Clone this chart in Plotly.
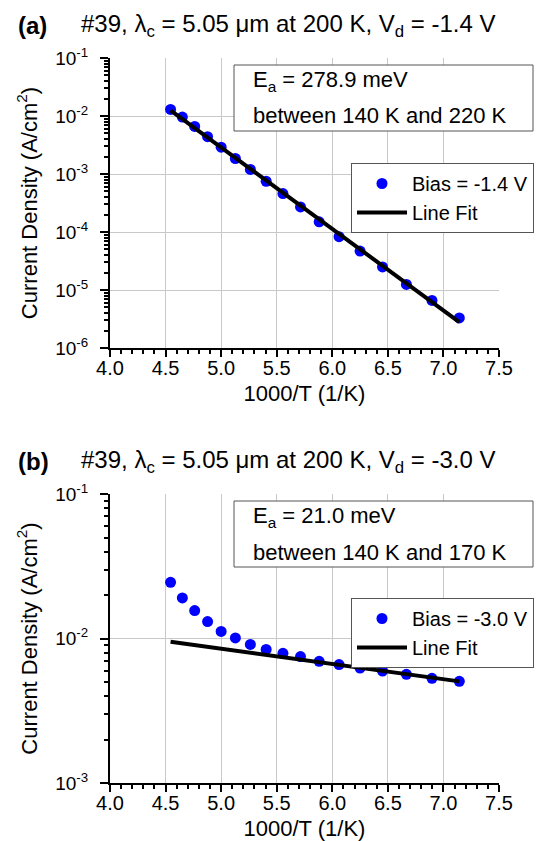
"""Dark current density vs 1000/T, two bias panels"""

import plotly.graph_objects as go

# ---------- data ----------
inv_t = [4.545, 4.651, 4.762, 4.878, 5.000, 5.128, 5.263, 5.405, 5.556,
         5.714, 5.882, 6.061, 6.250, 6.452, 6.667, 6.897, 7.143]

# (a) bias -1.4 V
j_a = [1.30e-2, 9.6e-3, 6.6e-3, 4.4e-3, 2.9e-3, 1.85e-3, 1.2e-3, 7.5e-4, 4.6e-4,
       2.7e-4, 1.5e-4, 8.3e-5, 4.7e-5, 2.5e-5, 1.25e-5, 6.6e-6, 3.3e-6]
fit_a_x = [4.545, 7.143]
fit_a_y = [1.25e-2, 2.8e-6]

# (b) bias -3.0 V
j_b = [2.45e-2, 1.91e-2, 1.56e-2, 1.31e-2, 1.12e-2, 1.01e-2, 9.1e-3, 8.4e-3, 7.9e-3,
       7.5e-3, 6.95e-3, 6.6e-3, 6.25e-3, 5.95e-3, 5.65e-3, 5.3e-3, 5.05e-3]
fit_b_x = [4.545, 7.143]
fit_b_y = [9.5e-3, 5.05e-3]

titles = ["#39, λ<sub>c</sub> = 5.05 μm at 200 K, V<sub>d</sub> = -1.4 V",
          "#39, λ<sub>c</sub> = 5.05 μm at 200 K, V<sub>d</sub> = -3.0 V"]
panel_tags = ["(a)", "(b)"]
ea_text = ["E<sub>a</sub> = 278.9 meV", "E<sub>a</sub> = 21.0 meV"]
range_text = ["between 140 K and 220 K", "between 140 K and 170 K"]
bias_names = ["Bias = -1.4 V", "Bias = -3.0 V"]

# ---------- pixel helpers ----------
W, H = 551, 841
L, R, T, B = 102, 491, 50, 775
def fx(px): return (px - L) / (R - L)
def fy(py): return (B - py) / (B - T)

FONT = "Liberation Sans, Arial, sans-serif"
BLUE = "#0000ff"

fig = go.Figure()

panels = [
    dict(y=j_a, fx=fit_a_x, fy=fit_a_y, xa="x", ya="y", legend="legend", top=50),
    dict(y=j_b, fx=fit_b_x, fy=fit_b_y, xa="x2", ya="y2", legend="legend2", top=486),
]

for i, p in enumerate(panels):
    fig.add_trace(go.Scatter(
        x=inv_t, y=p["y"], mode="markers", name=bias_names[i],
        marker=dict(size=11, color=BLUE), xaxis=p["xa"], yaxis=p["ya"],
        legend=p["legend"]
    ))
    fig.add_trace(go.Scatter(
        x=p["fx"], y=p["fy"], mode="lines", name="Line Fit",
        line=dict(color="black", width=4), xaxis=p["xa"], yaxis=p["ya"],
        legend=p["legend"]
    ))

    top = p["top"]
    # title line
    fig.add_annotation(xref="paper", yref="paper", x=fx(8), y=fy(top - 33),
                       xanchor="left", yanchor="middle", showarrow=False,
                       text="<b>" + panel_tags[i] + "</b>", font=dict(size=24))
    fig.add_annotation(xref="paper", yref="paper", x=fx(71), y=fy(top - 33),
                       xanchor="left", yanchor="middle", showarrow=False,
                       text=titles[i], font=dict(size=24))
    # activation energy box
    fig.add_shape(type="rect", xref="paper", yref="paper",
                  x0=fx(226), x1=fx(525), y0=fy(top + 7), y1=fy(top + 73),
                  line=dict(color="#555555", width=1), fillcolor="white", layer="above")
    fig.add_annotation(xref="paper", yref="paper", x=fx(243), y=fy(top + 23),
                       xanchor="left", yanchor="middle", showarrow=False,
                       text=ea_text[i], font=dict(size=22))
    fig.add_annotation(xref="paper", yref="paper", x=fx(243), y=fy(top + 58),
                       xanchor="left", yanchor="middle", showarrow=False,
                       text=range_text[i], font=dict(size=22))

# ---------- axes ----------
def x_axis(anchor):
    return dict(
        range=[4.0, 7.5], tick0=4.0, dtick=0.5, tickformat=".1f",
        showline=True, linecolor="black", linewidth=2,
        ticks="outside", ticklen=7, tickwidth=1.5, tickcolor="black",
        ticklabelstandoff=-6,
        minor=dict(dtick=0.1, ticks="outside", ticklen=4, tickwidth=1.5,
                   tickcolor="black", showgrid=False),
        showgrid=True, gridcolor="#c8c8c8", gridwidth=1, zeroline=False,
        anchor=anchor, domain=[0, 1],
        title=dict(text="1000/T (1/K)", font=dict(size=22), standoff=8),
        tickfont=dict(size=20), automargin=False,
    )

def y_axis(anchor, domain, lo, hi):
    major = [10.0 ** e for e in range(lo, hi + 1)]
    labels = ["10<sup>%d</sup>" % e for e in range(lo, hi + 1)]
    minor_vals = [m * 10.0 ** e for e in range(lo, hi) for m in range(2, 10)]
    return dict(
        type="log", range=[lo, hi], tickmode="array", tickvals=major, ticktext=labels,
        showline=True, linecolor="black", linewidth=2,
        ticks="outside", ticklen=8, tickwidth=1.5, tickcolor="black",
        ticklabelstandoff=8,
        minor=dict(tickmode="array", tickvals=minor_vals, ticks="outside", ticklen=4,
                   tickwidth=1.5, tickcolor="black", showgrid=False),
        showgrid=True, gridcolor="#c8c8c8", gridwidth=1, zeroline=False,
        anchor=anchor, domain=domain,
        title=dict(text="Current Density (A/cm<sup>2</sup>)", font=dict(size=22), standoff=12),
        tickfont=dict(size=19), automargin=False,
    )

legend_style = dict(
    xref="paper", yref="paper", xanchor="left", yanchor="top",
    bgcolor="white", bordercolor="#555555", borderwidth=1,
    font=dict(size=20), itemwidth=50, tracegroupgap=0,
)

fig.update_layout(
    width=W, height=H,
    margin=dict(l=L, r=W - R, t=T, b=H - B),
    paper_bgcolor="white", plot_bgcolor="white",
    font=dict(family=FONT, color="black"),
    xaxis=x_axis("y"),
    yaxis=y_axis("x", [fy(340), fy(50)], -6, -1),
    xaxis2=x_axis("y2"),
    yaxis2=y_axis("x2", [fy(775), fy(486)], -3, -1),
    legend=dict(x=fx(343), y=fy(155), **legend_style),
    legend2=dict(x=fx(343), y=fy(590), **legend_style),
)

fig.write_html("out.html")
